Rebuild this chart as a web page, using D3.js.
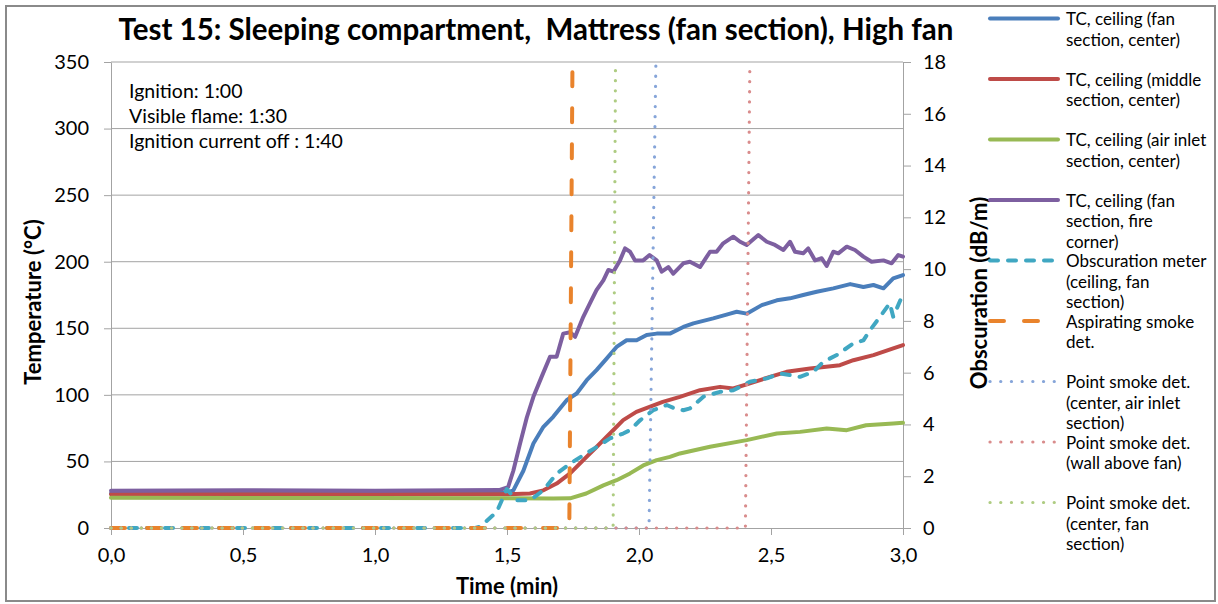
<!DOCTYPE html>
<html>
<head>
<meta charset="utf-8">
<script src="https://d3js.org/d3.v7.min.js"></script>
<style>
  body { margin: 0; background: #fff; }
  text { font-family: Lato, Carlito, Calibri, sans-serif; fill: #000; }
</style>
</head>
<body>
<script>
// values: [time (min), temperature (°C)] or [time, obscuration (dB/m)]
const tcFanCenter = [[0,26],[0.5,26],[1.0,26],[1.5,26.5],[1.524,28.3],[1.562,43],[1.60,63.5],[1.638,76],[1.675,83.5],[1.726,96],[1.764,101],[1.802,111],[1.839,118.6],[1.878,127.4],[1.915,136],[1.953,141],[1.991,141],[2.029,145],[2.067,146],[2.117,146],[2.168,151],[2.206,153.7],[2.281,157.4],[2.345,161],[2.37,162.4],[2.408,161],[2.465,167.4],[2.522,171],[2.572,172.5],[2.622,175],[2.673,177.4],[2.736,180],[2.80,183.2],[2.85,181],[2.888,182.5],[2.926,180],[2.963,187.5],[3.0,190]];
const tcMiddleCenter = [[0,25.3],[0.5,25.3],[1.0,25.3],[1.5,25.3],[1.587,25.9],[1.638,28.3],[1.688,33.4],[1.739,41],[1.789,51],[1.84,61],[1.89,71],[1.94,81],[1.99,87.2],[2.04,91],[2.09,94.7],[2.155,98.5],[2.231,103.5],[2.307,106],[2.357,104.8],[2.42,108.6],[2.496,113.5],[2.559,117.3],[2.648,119.8],[2.761,122.3],[2.812,126],[2.888,129.8],[2.963,134.9],[3.0,137.4]];
const tcInletCenter = [[0,22.8],[0.5,22.5],[1.0,22.5],[1.5,22.3],[1.675,22.1],[1.739,22.3],[1.80,25.9],[1.865,32],[1.915,35.9],[1.966,41],[2.016,47],[2.067,51],[2.117,53.4],[2.155,56],[2.269,61],[2.408,66],[2.522,71],[2.61,72.2],[2.711,74.7],[2.787,73.5],[2.86,77.2],[2.963,78.5],[3.0,79]];
const tcFanCorner = [[0,28],[0.5,28.3],[1.0,28],[1.47,28.5],[1.504,30.6],[1.524,43],[1.549,63],[1.575,83],[1.60,98.5],[1.631,113.5],[1.663,128.6],[1.688,128.6],[1.713,146],[1.739,147],[1.758,143.6],[1.789,158.6],[1.814,168.7],[1.839,178.7],[1.865,186],[1.884,193.8],[1.903,192.5],[1.928,201],[1.947,210],[1.966,207.5],[1.985,201],[2.016,201],[2.04,205],[2.067,201],[2.086,192.5],[2.111,196],[2.13,191],[2.168,198.8],[2.193,200],[2.231,196],[2.269,207.5],[2.294,207.5],[2.319,213.8],[2.357,218.8],[2.383,215],[2.408,212.6],[2.452,220],[2.484,215],[2.515,212.6],[2.547,208.8],[2.572,215],[2.591,207.5],[2.622,206.3],[2.641,210],[2.667,201],[2.692,202.6],[2.711,196.8],[2.736,207.5],[2.755,206.3],[2.787,211.3],[2.818,208.8],[2.85,203.8],[2.881,200],[2.926,201],[2.957,198.8],[2.982,205],[3.0,203.8]];
const obscuration = [[0,0],[1.38,0],[1.398,0.05],[1.461,0.62],[1.499,1.5],[1.537,1.07],[1.587,1.07],[1.638,1.46],[1.688,2.1],[1.739,2.49],[1.789,2.81],[1.84,3.13],[1.89,3.46],[1.94,3.65],[1.966,3.78],[2.004,4.16],[2.054,4.55],[2.105,4.75],[2.14,4.6],[2.168,4.55],[2.193,4.62],[2.244,5.07],[2.307,5.26],[2.357,5.32],[2.42,5.65],[2.484,5.78],[2.534,5.97],[2.61,5.84],[2.66,6.03],[2.698,6.42],[2.749,6.68],[2.812,7.13],[2.85,7.25],[2.875,7.64],[2.913,8.16],[2.95,8.68],[2.963,8.16],[2.99,8.8],[3.0,9.1]];
const aspirating = [[0,0],[1.736,0],[1.748,18]];
const pointInlet = [[0,0],[2.038,0],[2.064,18]];
const pointWall = [[0,0],[2.403,0],[2.42,18]];
const pointFan = [[0,0],[1.902,0],[1.911,18]];

const seriesNames = [
  ["TC, ceiling (fan", "section, center)"],
  ["TC, ceiling (middle", "section, center)"],
  ["TC, ceiling (air inlet", "section, center)"],
  ["TC, ceiling (fan", "section, fire", "corner)"],
  ["Obscuration meter", "(ceiling, fan", "section)"],
  ["Aspirating smoke", "det."],
  ["Point smoke det.", "(center, air inlet", "section)"],
  ["Point smoke det.", "(wall above fan)"],
  ["Point smoke det.", "(center, fan", "section)"]
];
const xTicks = [0, 0.5, 1.0, 1.5, 2.0, 2.5, 3.0];
const yTicks = [0, 50, 100, 150, 200, 250, 300, 350];
const y2Ticks = [0, 2, 4, 6, 8, 10, 12, 14, 16, 18];
const notes = ["Ignition: 1:00", "Visible flame: 1:30", "Ignition current off : 1:40"];

const canvWidth = 1218, canvHeight = 604;
const plot = {left: 111, right: 903, top: 62, bottom: 528};

const svg = d3.select("body").append("svg")
    .attr("width", canvWidth)
    .attr("height", canvHeight);

// chart border
svg.append("rect")
    .attr("x", 6).attr("y", 6)
    .attr("width", 1209).attr("height", 595)
    .attr("fill", "#fff")
    .attr("stroke", "#8a8a8a")
    .attr("stroke-width", 2);

const x = d3.scaleLinear().domain([0, 3]).range([plot.left, plot.right]);
const y = d3.scaleLinear().domain([0, 350]).range([plot.bottom, plot.top]);
const y2 = d3.scaleLinear().domain([0, 18]).range([plot.bottom, plot.top]);

const gridColor = "#a3a3a3";

// horizontal gridlines
svg.append("g").selectAll("line")
    .data(yTicks.slice(1))
    .enter().append("line")
    .attr("x1", plot.left).attr("x2", plot.right)
    .attr("y1", d => y(d)).attr("y2", d => y(d))
    .attr("stroke", gridColor).attr("stroke-width", 1);

// axes
function styleAxis(g) {
    g.selectAll("path,line").attr("stroke", gridColor).attr("stroke-width", 1);
    g.selectAll("text").attr("font-size", "20px").attr("fill", "#000")
        .attr("font-family", "Lato, Carlito, Calibri, sans-serif");
}

svg.append("g")
    .attr("transform", "translate(0," + plot.bottom + ")")
    .call(d3.axisBottom(x).tickValues(xTicks).tickSize(7).tickSizeOuter(0)
        .tickFormat(d => d3.format(".1f")(d).replace(".", ",")).tickPadding(13))
    .call(styleAxis);

svg.append("g")
    .attr("transform", "translate(" + plot.left + ",0)")
    .call(d3.axisLeft(y).tickValues(yTicks).tickSize(7).tickSizeOuter(0).tickPadding(15))
    .call(styleAxis);

svg.append("g")
    .attr("transform", "translate(" + plot.right + ",0)")
    .call(d3.axisRight(y2).tickValues(y2Ticks).tickSize(8).tickSizeOuter(0).tickPadding(12))
    .call(styleAxis);

// titles
svg.append("text")
    .attr("x", 536).attr("y", 40)
    .attr("text-anchor", "middle")
    .attr("font-size", "29.5px").attr("font-weight", "bold")
    .style("white-space", "pre")
    .text("Test 15: Sleeping compartment,  Mattress (fan section), High fan");

svg.append("text")
    .attr("x", 507).attr("y", 594)
    .attr("text-anchor", "middle")
    .attr("font-size", "22px").attr("font-weight", "bold")
    .text("Time (min)");

svg.append("text")
    .attr("transform", "translate(41,302) rotate(-90)")
    .attr("text-anchor", "middle")
    .attr("font-size", "22px").attr("font-weight", "bold")
    .text("Temperature (°C)");

svg.append("text")
    .attr("transform", "translate(987,293) rotate(-90)")
    .attr("text-anchor", "middle")
    .attr("font-size", "22px").attr("font-weight", "bold")
    .text("Obscuration (dB/m)");

// notes
svg.append("g").selectAll("text")
    .data(notes)
    .enter().append("text")
    .attr("x", 129)
    .attr("y", (d, i) => 98 + i * 25)
    .attr("font-size", "19.5px")
    .text(d => d);

// series
svg.append("clipPath").attr("id", "plot-clip")
    .append("rect")
    .attr("x", plot.left - 3).attr("y", plot.top)
    .attr("width", plot.right - plot.left + 6).attr("height", plot.bottom - plot.top + 3);

const series = [
    {data: tcFanCenter, scale: y, color: "#4a7ebb", width: 4, dash: null},
    {data: tcMiddleCenter, scale: y, color: "#be4b48", width: 4, dash: null},
    {data: tcInletCenter, scale: y, color: "#98b954", width: 4, dash: null},
    {data: tcFanCorner, scale: y, color: "#7d5fa0", width: 4, dash: null},
    {data: obscuration, scale: y2, color: "#40a7c2", width: 4, dash: "8,10"},
    {data: aspirating, scale: y2, color: "#e9832c", width: 4, dash: "14,22"},
    {data: pointInlet, scale: y2, color: "#86a5d9", width: 3.2, dash: "0.1,10"},
    {data: pointWall, scale: y2, color: "#d98c8c", width: 3.2, dash: "0.1,10"},
    {data: pointFan, scale: y2, color: "#aecc82", width: 3.2, dash: "0.1,10"}
];

const lines = svg.append("g").attr("clip-path", "url(#plot-clip)");
series.forEach(s => {
    const line = d3.line().x(d => x(d[0])).y(d => s.scale(d[1]));
    lines.append("path")
        .datum(s.data)
        .attr("d", line)
        .attr("fill", "none")
        .attr("stroke", s.color)
        .attr("stroke-width", s.width)
        .attr("stroke-linejoin", "round")
        .attr("stroke-linecap", "round")
        .attr("stroke-dasharray", s.dash);
});

// legend
const legend = svg.append("g");
series.forEach((s, i) => {
    const ly = 18.5 + i * 60.5;
    legend.append("line")
        .attr("x1", 990).attr("x2", s.dash === "0.1,10" ? 1056 : 1058)
        .attr("y1", ly).attr("y2", ly)
        .attr("stroke", s.color)
        .attr("stroke-width", s.width)
        .attr("stroke-linecap", "round")
        .attr("stroke-dasharray", s.dash === "14,22" ? "14,20" : (s.dash === "0.1,10" ? "0.1,10.6" : s.dash));
    legend.append("g").selectAll("text")
        .data(seriesNames[i])
        .enter().append("text")
        .attr("x", 1066)
        .attr("y", (d, j) => ly + 6.5 + j * 20.7)
        .attr("font-size", "17px")
        .text(d => d);
});
</script>
</body>
</html>
